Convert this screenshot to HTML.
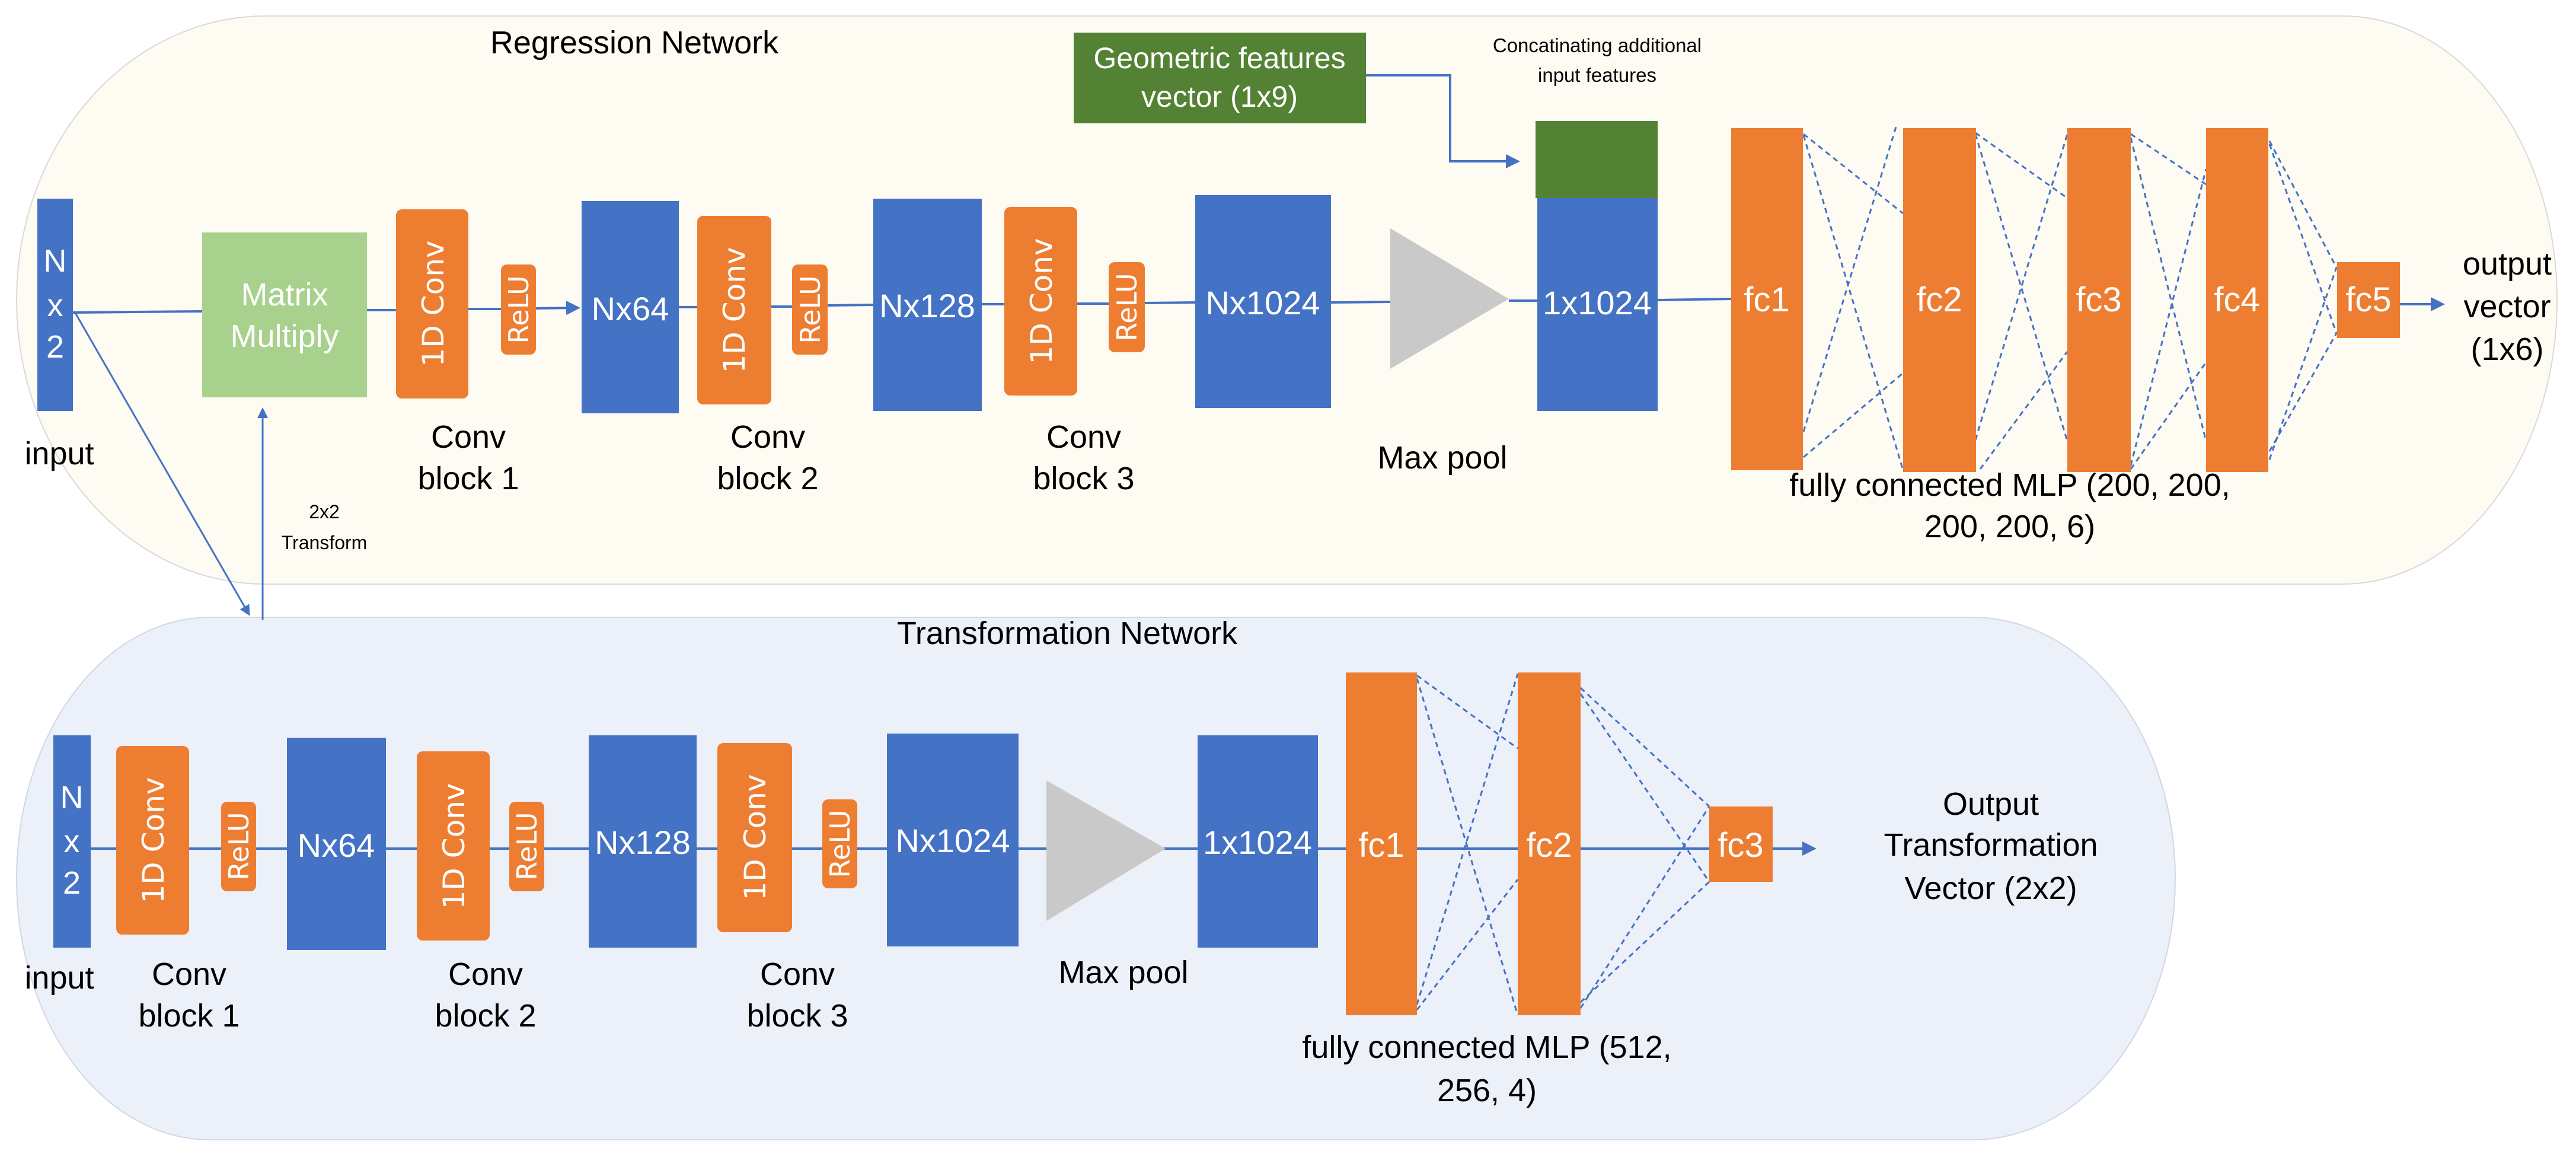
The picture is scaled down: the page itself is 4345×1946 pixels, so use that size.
<!DOCTYPE html>
<html><head><meta charset="utf-8"><style>
html,body{margin:0;padding:0;background:#fff;}
svg{display:block;}
text{font-family:"Liberation Sans Narrow","Liberation Sans",sans-serif;}
.w{fill:#fff;}
.k{fill:#000;}
.v{font-family:"DejaVu Sans","Liberation Sans",sans-serif;fill:#fff;}
.d{stroke:#4472c4;stroke-width:3;stroke-dasharray:9 7;fill:none;}
.l{stroke:#4472c4;stroke-width:4;fill:none;}
</style></head><body>
<svg width="4345" height="1946" viewBox="0 0 4345 1946" xmlns="http://www.w3.org/2000/svg">
<defs>
<marker id="ar" markerWidth="6" markerHeight="6" refX="5" refY="3" orient="auto" markerUnits="strokeWidth">
<path d="M0,0 L6,3 L0,6 Z" fill="#4472c4"/></marker>
</defs>
<path d="M448,27 H3951 A362 479 0 0 1 4313 506 A362 479 0 0 1 3951 985 H448 A420 479 0 0 1 28 506 A420 479 0 0 1 448 27 Z" fill="#fefbf3" stroke="#d9d9d9" stroke-width="2"/>
<path d="M354,1041 H3327 A342 440 0 0 1 3669 1481 A342 440 0 0 1 3327 1922 H354 A326 440 0 0 1 28 1481 A326 440 0 0 1 354 1041 Z" fill="#ecf0f9" stroke="#d0d7e5" stroke-width="2"/>

<text x="1070" y="90" font-size="54" text-anchor="middle" class="k">Regression Network</text>
<line x1="123" y1="527" x2="341" y2="525" class="l"/>
<line x1="619" y1="523" x2="668" y2="523" class="l"/>
<line x1="790" y1="521" x2="845" y2="521" class="l"/>
<line x1="904" y1="520" x2="975" y2="519" class="l" marker-end="url(#ar)"/>
<line x1="1145" y1="518" x2="1176" y2="518" class="l"/>
<line x1="1301" y1="517" x2="1336" y2="517" class="l"/>
<line x1="1396" y1="515" x2="1473" y2="514" class="l"/>
<line x1="1656" y1="513" x2="1694" y2="513" class="l"/>
<line x1="1817" y1="512" x2="1870" y2="512" class="l"/>
<line x1="1931" y1="511" x2="2016" y2="510" class="l"/>
<line x1="2245" y1="510" x2="2345" y2="509" class="l"/>
<line x1="2545" y1="507" x2="2593" y2="507" class="l"/>
<line x1="2796" y1="506" x2="2920" y2="504" class="l"/>
<line x1="4048" y1="513" x2="4120" y2="513" class="l" marker-end="url(#ar)"/>
<polyline points="2304,127 2446,127 2446,272 2560,272" class="l" marker-end="url(#ar)"/>
<line x1="126" y1="526" x2="420" y2="1036" stroke="#4472c4" stroke-width="3" marker-end="url(#ar)"/>
<line x1="443" y1="1045" x2="443" y2="690" stroke="#4472c4" stroke-width="3" marker-end="url(#ar)"/>
<text x="547" y="874" font-size="32" text-anchor="middle" class="k">2x2</text>
<text x="547" y="926" font-size="32" text-anchor="middle" class="k">Transform</text>

<rect x="63" y="335" width="60" height="358" fill="#4472c4"/>
<text x="93" y="458" font-size="54" text-anchor="middle" class="w">N</text>
<text x="93" y="533" font-size="54" text-anchor="middle" class="w">x</text>
<text x="93" y="603" font-size="54" text-anchor="middle" class="w">2</text>
<text x="100" y="783" font-size="54" text-anchor="middle" class="k">input</text>

<rect x="341" y="392" width="278" height="278" fill="#a9d18e"/>
<text x="480" y="515" font-size="54" text-anchor="middle" class="w">Matrix</text>
<text x="480" y="585" font-size="54" text-anchor="middle" class="w">Multiply</text>

<rect x="668" y="353" width="122" height="319" rx="10" fill="#ed7d31"/>
<text transform="translate(748,512) rotate(-90)" font-size="50" text-anchor="middle" class="v">1D Conv</text>
<rect x="845" y="446" width="59" height="152" rx="10" fill="#ed7d31"/>
<text transform="translate(891,522) rotate(-90)" font-size="46" text-anchor="middle" class="v">ReLU</text>

<rect x="981" y="339" width="164" height="358" fill="#4472c4"/>
<text x="1063" y="540" font-size="56" text-anchor="middle" class="w">Nx64</text>

<rect x="1176" y="364" width="125" height="318" rx="10" fill="#ed7d31"/>
<text transform="translate(1256,523) rotate(-90)" font-size="50" text-anchor="middle" class="v">1D Conv</text>
<rect x="1336" y="446" width="60" height="152" rx="10" fill="#ed7d31"/>
<text transform="translate(1383,522) rotate(-90)" font-size="46" text-anchor="middle" class="v">ReLU</text>

<rect x="1473" y="335" width="183" height="358" fill="#4472c4"/>
<text x="1564" y="535" font-size="56" text-anchor="middle" class="w">Nx128</text>

<rect x="1694" y="349" width="123" height="318" rx="10" fill="#ed7d31"/>
<text transform="translate(1774,508) rotate(-90)" font-size="50" text-anchor="middle" class="v">1D Conv</text>
<rect x="1870" y="442" width="61" height="152" rx="10" fill="#ed7d31"/>
<text transform="translate(1917,518) rotate(-90)" font-size="46" text-anchor="middle" class="v">ReLU</text>

<rect x="2016" y="329" width="229" height="359" fill="#4472c4"/>
<text x="2130" y="530" font-size="56" text-anchor="middle" class="w">Nx1024</text>

<text x="790" y="755" font-size="54" text-anchor="middle" class="k">Conv</text>
<text x="790" y="825" font-size="54" text-anchor="middle" class="k">block 1</text>
<text x="1295" y="755" font-size="54" text-anchor="middle" class="k">Conv</text>
<text x="1295" y="825" font-size="54" text-anchor="middle" class="k">block 2</text>
<text x="1828" y="755" font-size="54" text-anchor="middle" class="k">Conv</text>
<text x="1828" y="825" font-size="54" text-anchor="middle" class="k">block 3</text>

<rect x="1811" y="55" width="493" height="153" fill="#548235"/>
<text x="2057" y="115" font-size="50" text-anchor="middle" class="w">Geometric features</text>
<text x="2057" y="180" font-size="50" text-anchor="middle" class="w">vector (1x9)</text>
<text x="2694" y="88" font-size="33" text-anchor="middle" class="k">Concatinating additional</text>
<text x="2694" y="138" font-size="33" text-anchor="middle" class="k">input features</text>

<polygon points="2345,385 2545,504 2345,622" fill="#c9c9c9"/>
<text x="2433" y="790" font-size="54" text-anchor="middle" class="k">Max pool</text>

<rect x="2590" y="204" width="206" height="130" fill="#548235"/>
<rect x="2593" y="334" width="203" height="359" fill="#4472c4"/>
<text x="2694" y="530" font-size="56" text-anchor="middle" class="w">1x1024</text>

<line x1="3042" y1="226" x2="3210" y2="360" class="d"/>
<line x1="3042" y1="228" x2="3210" y2="793" class="d"/>
<line x1="3042" y1="771" x2="3210" y2="629" class="d"/>
<line x1="3042" y1="728" x2="3198" y2="214" class="d"/>
<line x1="3332" y1="224" x2="3487" y2="334" class="d"/>
<line x1="3332" y1="226" x2="3487" y2="744" class="d"/>
<line x1="3340" y1="791" x2="3487" y2="593" class="d"/>
<line x1="3332" y1="742" x2="3487" y2="226" class="d"/>
<line x1="3594" y1="226" x2="3721" y2="311" class="d"/>
<line x1="3594" y1="232" x2="3721" y2="744" class="d"/>
<line x1="3594" y1="791" x2="3721" y2="611" class="d"/>
<line x1="3594" y1="785" x2="3721" y2="285" class="d"/>
<line x1="3828" y1="238" x2="3941" y2="451" class="d"/>
<line x1="3828" y1="243" x2="3941" y2="562" class="d"/>
<line x1="3828" y1="775" x2="3941" y2="451" class="d"/>
<line x1="3828" y1="761" x2="3941" y2="562" class="d"/>

<rect x="2920" y="216" width="121" height="577" fill="#ed7d31"/>
<text x="2980" y="525" font-size="58" text-anchor="middle" class="w">fc1</text>
<rect x="3210" y="216" width="123" height="580" fill="#ed7d31"/>
<text x="3271" y="525" font-size="58" text-anchor="middle" class="w">fc2</text>
<rect x="3487" y="216" width="107" height="580" fill="#ed7d31"/>
<text x="3540" y="525" font-size="58" text-anchor="middle" class="w">fc3</text>
<rect x="3721" y="216" width="105" height="580" fill="#ed7d31"/>
<text x="3773" y="525" font-size="58" text-anchor="middle" class="w">fc4</text>
<rect x="3942" y="442" width="106" height="128" fill="#ed7d31"/>
<text x="3995" y="525" font-size="58" text-anchor="middle" class="w">fc5</text>

<text x="3390" y="836" font-size="54" text-anchor="middle" class="k">fully connected MLP (200, 200,</text>
<text x="3390" y="906" font-size="54" text-anchor="middle" class="k">200, 200, 6)</text>
<text x="4229" y="463" font-size="54" text-anchor="middle" class="k">output</text>
<text x="4229" y="535" font-size="54" text-anchor="middle" class="k">vector</text>
<text x="4229" y="607" font-size="54" text-anchor="middle" class="k">(1x6)</text>

<text x="1800" y="1086" font-size="54" text-anchor="middle" class="k">Transformation Network</text>
<line x1="153" y1="1431" x2="3060" y2="1431" class="l" marker-end="url(#ar)"/>

<rect x="90" y="1240" width="63" height="358" fill="#4472c4"/>
<text x="121" y="1363" font-size="54" text-anchor="middle" class="w">N</text>
<text x="121" y="1437" font-size="54" text-anchor="middle" class="w">x</text>
<text x="121" y="1507" font-size="54" text-anchor="middle" class="w">2</text>
<text x="100" y="1667" font-size="54" text-anchor="middle" class="k">input</text>

<rect x="196" y="1258" width="123" height="318" rx="10" fill="#ed7d31"/>
<text transform="translate(276,1417) rotate(-90)" font-size="50" text-anchor="middle" class="v">1D Conv</text>
<rect x="373" y="1352" width="59" height="151" rx="10" fill="#ed7d31"/>
<text transform="translate(419,1427) rotate(-90)" font-size="46" text-anchor="middle" class="v">ReLU</text>

<rect x="484" y="1244" width="167" height="358" fill="#4472c4"/>
<text x="567" y="1445" font-size="56" text-anchor="middle" class="w">Nx64</text>

<rect x="703" y="1267" width="123" height="319" rx="10" fill="#ed7d31"/>
<text transform="translate(783,1427) rotate(-90)" font-size="50" text-anchor="middle" class="v">1D Conv</text>
<rect x="859" y="1352" width="59" height="151" rx="10" fill="#ed7d31"/>
<text transform="translate(905,1427) rotate(-90)" font-size="46" text-anchor="middle" class="v">ReLU</text>

<rect x="993" y="1240" width="182" height="358" fill="#4472c4"/>
<text x="1084" y="1440" font-size="56" text-anchor="middle" class="w">Nx128</text>

<rect x="1210" y="1253" width="126" height="319" rx="10" fill="#ed7d31"/>
<text transform="translate(1291,1412) rotate(-90)" font-size="50" text-anchor="middle" class="v">1D Conv</text>
<rect x="1387" y="1348" width="59" height="150" rx="10" fill="#ed7d31"/>
<text transform="translate(1433,1423) rotate(-90)" font-size="46" text-anchor="middle" class="v">ReLU</text>

<rect x="1496" y="1237" width="222" height="359" fill="#4472c4"/>
<text x="1607" y="1437" font-size="56" text-anchor="middle" class="w">Nx1024</text>

<polygon points="1765,1316 1966,1431 1765,1553" fill="#c9c9c9"/>
<rect x="2020" y="1240" width="203" height="358" fill="#4472c4"/>
<text x="2121" y="1440" font-size="56" text-anchor="middle" class="w">1x1024</text>

<line x1="2390" y1="1139" x2="2560" y2="1262" class="d"/>
<line x1="2390" y1="1144" x2="2560" y2="1712" class="d"/>
<line x1="2390" y1="1703" x2="2560" y2="1483" class="d"/>
<line x1="2390" y1="1694" x2="2560" y2="1136" class="d"/>
<line x1="2666" y1="1160" x2="2883" y2="1360" class="d"/>
<line x1="2666" y1="1170" x2="2883" y2="1487" class="d"/>
<line x1="2666" y1="1700" x2="2883" y2="1360" class="d"/>
<line x1="2666" y1="1690" x2="2883" y2="1487" class="d"/>

<rect x="2270" y="1134" width="120" height="578" fill="#ed7d31"/>
<text x="2330" y="1445" font-size="58" text-anchor="middle" class="w">fc1</text>
<rect x="2560" y="1134" width="106" height="578" fill="#ed7d31"/>
<text x="2613" y="1445" font-size="58" text-anchor="middle" class="w">fc2</text>
<rect x="2883" y="1360" width="107" height="127" fill="#ed7d31"/>
<text x="2936" y="1445" font-size="58" text-anchor="middle" class="w">fc3</text>

<text x="319" y="1661" font-size="54" text-anchor="middle" class="k">Conv</text>
<text x="319" y="1731" font-size="54" text-anchor="middle" class="k">block 1</text>
<text x="819" y="1661" font-size="54" text-anchor="middle" class="k">Conv</text>
<text x="819" y="1731" font-size="54" text-anchor="middle" class="k">block 2</text>
<text x="1345" y="1661" font-size="54" text-anchor="middle" class="k">Conv</text>
<text x="1345" y="1731" font-size="54" text-anchor="middle" class="k">block 3</text>
<text x="1895" y="1658" font-size="54" text-anchor="middle" class="k">Max pool</text>
<text x="2508" y="1784" font-size="54" text-anchor="middle" class="k">fully connected MLP (512,</text>
<text x="2508" y="1857" font-size="54" text-anchor="middle" class="k">256, 4)</text>
<text x="3358" y="1374" font-size="54" text-anchor="middle" class="k">Output</text>
<text x="3358" y="1443" font-size="54" text-anchor="middle" class="k">Transformation</text>
<text x="3358" y="1516" font-size="54" text-anchor="middle" class="k">Vector (2x2)</text>
</svg>
</body></html>
